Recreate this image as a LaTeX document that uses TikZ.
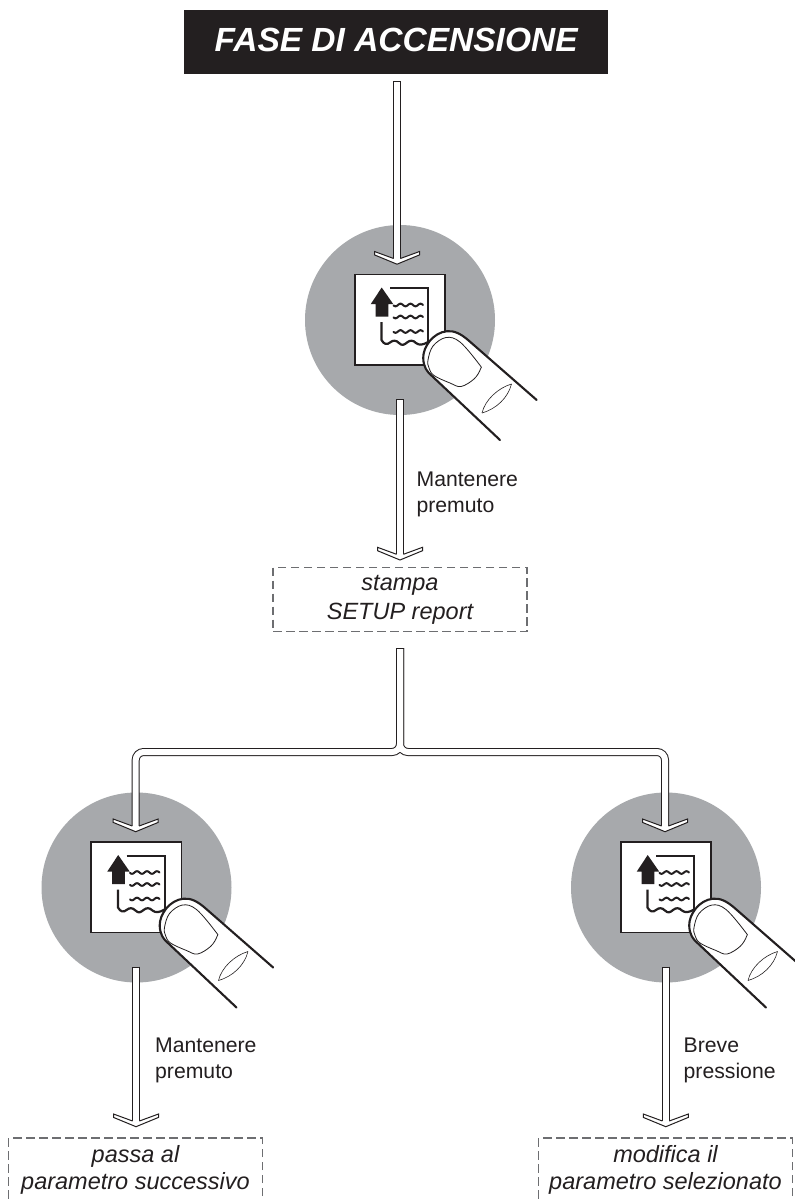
\documentclass[tikz,border=0pt]{standalone}
\usepackage{fontspec}
\setmainfont{Liberation Sans}
\definecolor{ink}{HTML}{231F20}
\definecolor{disc}{HTML}{A7A9AC}
\definecolor{dashgray}{HTML}{6D6E71}
\newcommand{\wavyline}[3]{\draw[ink,line width=#3,line cap=round] plot[domain=-6.5:23,samples=45,smooth] (\x,{#1+#2*sin(36*(\x+7))});}
\tikzset{
  x=1pt,y=-1pt,
  titlebox/.style={fill=ink,text=white,minimum width=424pt,minimum height=64pt,inner sep=0pt,text height=24pt,text depth=6pt,font=\fontsize{33.5}{36}\selectfont\bfseries\itshape},
  discnode/.style={circle,fill=disc,minimum size=190pt,inner sep=0pt},
  notebox/.style={draw=dashgray,line width=1.2pt,dash pattern=on 8.5pt off 4.5pt,minimum width=254pt,minimum height=64pt,inner sep=0pt,align=center,text=ink},
  notelow/.style={notebox,font=\fontsize{23.5}{26.7}\selectfont\itshape},
  notehigh/.style={notebox,font=\fontsize{23.5}{29}\selectfont\itshape},
  hint/.style={anchor=north west,inner sep=0pt,align=left,font=\fontsize{21.2}{26}\selectfont,text=ink},
  pipeout/.style={draw=ink,line width=8pt,rounded corners=8pt},
  pipein/.style={draw=white,line width=6pt,rounded corners=8pt},
  chev/.pic={
    \filldraw[draw=ink,fill=white,line width=1pt,line join=miter]
      (-3.4,0) -- (-22.5,-7) -- (-22.5,-3.6) -- (0,5.7) -- (22.5,-3.6) -- (22.5,-7) -- (3.4,0);
  },
  keyicon/.pic={
    \draw[ink,line width=1.8pt,fill=white] (-45.3,-45.5) rectangle (45,45);
    \draw[ink,line width=2pt] (-10,-31.8) -- (28.3,-31.8) -- (28.3,24);
    \fill[ink] (-18.3,-32.5) -- (-29.3,-15.8) -- (-24.3,-15.8) -- (-24.3,-3.5) -- (-11.7,-3.5) -- (-11.7,-15.8) -- (-6.7,-15.8) -- cycle;
    \wavyline{-15}{1.3}{2pt}
    \wavyline{-3}{1.3}{2pt}
    \wavyline{11.5}{1.3}{2pt}
    \draw[ink,line width=2.2pt] (-18.5,2) -- (-18.5,20) .. controls (-16,24.5) and (-13,25) .. (-10,22.5)
      .. controls (-7,20) and (-4,20) .. (-1,23) .. controls (2,26) and (4,25) .. (7,22.5)
      .. controls (10,20) and (13,20) .. (16,23) .. controls (19,25.5) and (23,25) .. (28,22);
    \filldraw[draw=ink,fill=white,line width=2.1pt,line cap=round]
      (136.7,80) -- (70,21.7) .. controls (61,13.5) and (54,10.5) .. (47,11.2)
      .. controls (33,12.5) and (23,27) .. (23.2,38) .. controls (23.5,47) and (27,52) .. (32,56) -- (100,120);
    \draw[ink,line width=.8pt] plot[smooth cycle,tension=.6] coordinates {(28,40) (33,26) (46,17.5) (60,22) (79,44) (80.5,49) (74,59) (61,66.5) (50,63) (34,55.5) (29,48)};
    \draw[ink,line width=.6pt] (82,93) .. controls (85,80) and (98,68) .. (111.5,64);
    \draw[ink,line width=.6pt] (82,93) .. controls (96,89) and (108,78) .. (111.5,64);
  },
}
\newcommand{\pipearrow}[2]{%
  \draw[pipeout] (#1) -- (#2);
  \draw[pipein] ([yshift=-1pt]#1) -- (#2);
  \pic at (#2) {chev};}
\begin{document}
\begin{tikzpicture}
\clip (0,0) rectangle (795,1200);
\fill[white] (0,0) rectangle (795,1200);
% nodes
\node[titlebox] (title) at (396.2,42) {FASE DI ACCENSIONE};
\node[discnode] (d1) at (400,320) {};
\node[discnode] (d2) at (136.5,887.5) {};
\node[discnode] (d3) at (666,887.5) {};
\node[notehigh] (n1) at (400,599.7) {stampa\\SETUP report};
\node[notelow] (n2) at (135.5,1170) {passa al\\parametro successivo};
\node[notelow] (n3) at (665.5,1170) {modifica il\\parametro selezionato};
\node[hint] (h1) at (416.4,471.5) {Mantenere\\premuto};
\node[hint] (h2) at (155,1038) {Mantenere\\premuto};
\node[hint] (h3) at (683.5,1038) {Breve\\pressione};
% connector ends
\coordinate (a1) at (397,81);   \coordinate (a2) at (397,258.5);
\coordinate (b1) at (400,399);  \coordinate (b2) at (400,554.3);
\coordinate (c1) at (400,648);  \coordinate (c2) at (400,752);
\coordinate (cle) at (135.7,826);\coordinate (cre) at (665,826);
\coordinate (e1) at (136,966.5);  \coordinate (e2) at (136,1121);
\coordinate (f1) at (665.8,966.5);  \coordinate (f2) at (665.8,1121);
% icons
\pic at (d1) {keyicon};
\pic at (d2) {keyicon};
\pic at (d3) {keyicon};
% connectors
\pipearrow{a1}{a2}
\pipearrow{b1}{b2}
\pipearrow{e1}{e2}
\pipearrow{f1}{f2}
\draw[pipeout] (c1) -- (c2) -| (cle);
\draw[pipeout] (c1) -- (c2) -| (cre);
\draw[pipein] ([yshift=-1pt]c1) -- (c2) -| (cle);
\draw[pipein] ([yshift=-1pt]c1) -- (c2) -| (cre);
\pic at (cle) {chev};
\pic at (cre) {chev};
\end{tikzpicture}
\end{document}
